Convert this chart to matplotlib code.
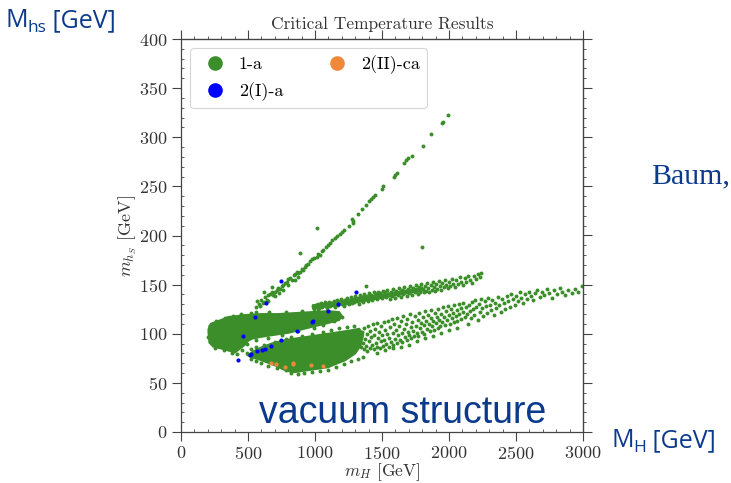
import matplotlib
matplotlib.use("Agg")
import matplotlib.pyplot as plt
from matplotlib.lines import Line2D
from matplotlib.ticker import MultipleLocator
from matplotlib.transforms import IdentityTransform

plt.rcParams['font.family'] = 'serif'
plt.rcParams['font.serif'] = ['cmr10', 'DejaVu Serif']
plt.rcParams['mathtext.fontset'] = 'cm'
plt.rcParams['axes.formatter.use_mathtext'] = True

# ---- data (m_H, m_hS in GeV) ----
# dense cores of the 1-a points, as outlines
upper_lobe = [(205, 102), (212, 108), (240, 111), (300, 114), (353, 117), (420, 118), (478, 119),
              (600, 120), (726, 120), (850, 121), (975, 122), (1100, 123), (1180, 122), (1200, 118),
              (1180, 114), (1100, 111), (975, 107), (801, 101), (700, 99), (602, 97), (530, 95),
              (502, 93), (470, 88), (440, 85), (403, 81), (353, 83), (300, 85), (240, 87), (212, 91)]
lower_lobe = [(500, 78), (540, 82), (600, 86), (677, 90), (760, 93), (851, 95), (950, 97),
              (1050, 99), (1150, 101), (1250, 103), (1330, 105), (1360, 99), (1340, 88), (1300, 80),
              (1224, 73), (1150, 69), (1099, 66), (1000, 64), (900, 62), (851, 61), (800, 62),
              (760, 64), (700, 68), (640, 71), (580, 74), (530, 76)]
middle_core = [(985, 129), (1200, 133), (1400, 138), (1600, 142), (1800, 147),
               (1800, 144), (1600, 139), (1400, 134), (1200, 130), (985, 126)]

# individual 1-a points
green_branch = [(565, 133), (580, 130), (595, 134), (610, 131), (627, 137), (640, 134), (650, 139),
                (664, 140), (680, 142), (690, 139), (702, 143), (715, 145), (725, 147), (739, 146),
                (750, 149), (764, 150), (775, 152), (790, 153), (800, 156), (815, 157), (826, 155),
                (840, 160), (851, 161), (865, 163), (875, 162), (888, 163), (900, 166), (912, 165),
                (925, 168), (935, 170), (950, 171), (962, 174), (975, 176), (990, 177), (1013, 178),
                (1025, 181), (1037, 180), (1050, 184), (1062, 185), (1080, 188), (1095, 190),
                (1112, 192), (1130, 195), (1150, 197), (1167, 199), (1187, 202), (1200, 204),
                (1216, 206), (1250, 210), (1279, 217), (1286, 215), (1282, 213), (1320, 222),
                (1350, 227), (1378, 231), (1400, 235), (1416, 237), (1430, 239), (1448, 241),
                (1498, 247), (1510, 250), (1592, 260), (1600, 262), (1610, 264), (1666, 274),
                (1680, 277), (1696, 279), (1726, 281), (1804, 291), (1866, 303), (1950, 314),
                (1958, 316), (1990, 323), (560, 127), (590, 128), (620, 132), (650, 133),
                (700, 138), (730, 141), (760, 145), (800, 150), (850, 155), (870, 158),
                (620, 142), (680, 148), (1013, 208), (888, 182), (1796, 188), (1378, 149)]
green_middle = [(988, 128), (996, 125), (1004, 129), (1012, 127), (1021, 130), (1029, 126),
                (1038, 128), (1046, 131), (1055, 127), (1063, 129), (1072, 132), (1080, 128),
                (1089, 126), (1097, 130), (1106, 132), (1114, 128), (1123, 131), (1131, 129),
                (1140, 133), (1148, 127), (1157, 131), (1165, 134), (1174, 129), (1182, 132),
                (1191, 135), (1199, 130), (1208, 133), (1216, 128), (1225, 134), (1233, 131),
                (1242, 136), (1250, 130), (1259, 133), (1267, 137), (1276, 131), (1284, 135),
                (1293, 132), (1301, 138), (1310, 133), (1318, 136), (1327, 130), (1335, 139),
                (1344, 134), (1352, 137), (1361, 132), (1369, 140), (1378, 135), (1386, 138),
                (1395, 133), (1403, 141), (1412, 136), (1420, 139), (1429, 134), (1437, 142),
                (1446, 137), (1454, 140), (1463, 135), (1471, 143), (1480, 138), (1488, 141),
                (1497, 136), (1505, 144), (1514, 139), (1522, 142), (1531, 137), (1539, 145),
                (1548, 140), (1556, 135), (1565, 143), (1573, 138), (1582, 146), (1590, 141),
                (1599, 136), (1607, 144), (1616, 139), (1624, 147), (1633, 142), (1641, 137),
                (1650, 145), (1658, 140), (1667, 148), (1675, 143), (1684, 138), (1692, 146),
                (1701, 141), (1709, 149), (1718, 144), (1726, 139), (1735, 147), (1743, 142),
                (1752, 150), (1760, 145), (1769, 140), (1777, 148), (1786, 143), (1794, 151),
                (1803, 146), (1811, 142), (1820, 149), (1828, 144), (1837, 152), (1845, 147),
                (1854, 143), (1862, 150), (1871, 145), (1879, 153), (1888, 148), (1896, 144),
                (1905, 151), (1914, 146), (1923, 154), (1932, 149), (1941, 145), (1950, 152),
                (1960, 148), (1970, 155), (1980, 150), (1990, 147), (2000, 153), (2011, 149),
                (2022, 156), (2033, 151), (2044, 148), (2055, 155), (2067, 151), (2079, 158),
                (2091, 153), (2103, 150), (2116, 157), (2129, 153), (2142, 159), (2156, 155),
                (2170, 152), (2185, 159), (2200, 156), (2215, 161), (2231, 158), (2238, 162)]
green_edges = [(200, 97), (210, 105), (225, 110), (260, 113), (330, 116), (390, 118), (450, 120),
               (520, 121), (560, 122), (660, 122), (780, 122), (900, 123), (1020, 124), (250, 85),
               (320, 83), (380, 80), (420, 79), (455, 83), (490, 90), (560, 94), (650, 96),
               (750, 99), (870, 103), (990, 106), (1060, 109), (1140, 113), (1205, 117),
               (495, 80), (520, 84), (560, 87), (620, 89), (700, 92), (780, 95), (820, 97),
               (900, 98), (980, 100), (1060, 102), (1120, 104), (1180, 106), (1240, 107),
               (1290, 108), (520, 74), (560, 72), (600, 70), (650, 67), (720, 65), (780, 63),
               (820, 60), (870, 59), (920, 60), (980, 61), (1040, 62), (1100, 63), (1160, 66),
               (1220, 69), (1270, 72), (1320, 74), (1360, 76)]
green_lower = [(1338, 98), (1344, 87), (1351, 102), (1357, 91), (1362, 84), (1369, 106), (1373, 95),
               (1379, 88), (1386, 100), (1391, 82), (1397, 108), (1403, 93), (1408, 86), (1414, 103),
               (1419, 97), (1426, 89), (1431, 110), (1437, 84), (1442, 99), (1448, 105), (1453, 91),
               (1459, 87), (1466, 111), (1471, 96), (1477, 102), (1483, 85), (1489, 93), (1494, 108),
               (1501, 99), (1507, 88), (1512, 112), (1518, 94), (1524, 104), (1531, 90), (1536, 100),
               (1542, 113), (1549, 87), (1554, 96), (1561, 107), (1567, 92), (1572, 115), (1579, 101),
               (1585, 89), (1591, 110), (1597, 95), (1603, 104), (1609, 116), (1615, 91), (1622, 99),
               (1628, 108), (1633, 94), (1640, 113), (1646, 101), (1652, 92), (1658, 118), (1664, 105),
               (1671, 97), (1677, 110), (1683, 94), (1689, 115), (1695, 102), (1702, 99), (1708, 120),
               (1714, 107), (1720, 96), (1727, 112), (1733, 103), (1739, 98), (1746, 118), (1752, 108),
               (1758, 101), (1765, 114), (1771, 98), (1777, 121), (1784, 106), (1790, 111), (1797, 102),
               (1803, 117), (1810, 109), (1816, 100), (1823, 123), (1829, 113), (1835, 105), (1842, 119),
               (1848, 110), (1855, 103), (1862, 116), (1868, 124), (1875, 108), (1881, 113), (1888, 104),
               (1894, 121), (1901, 111), (1908, 117), (1915, 106), (1921, 125), (1928, 114), (1935, 108),
               (1942, 120), (1949, 112), (1956, 127), (1963, 117), (1970, 109), (1977, 123), (1984, 114),
               (1991, 128), (1998, 119), (2005, 110), (2012, 125), (2020, 116), (2027, 121), (2034, 112),
               (2041, 129), (2049, 118), (2056, 124), (2063, 113), (2071, 130), (2078, 120), (2086, 126),
               (2093, 115), (2101, 122), (2108, 131), (2116, 117), (2124, 127), (2131, 120), (2139, 110),
               (2147, 129), (2155, 123), (2163, 116), (2171, 132), (2179, 125), (2187, 119), (2196, 134),
               (2204, 127), (2213, 114), (2221, 130), (2230, 122), (2239, 135), (2248, 126), (2257, 118),
               (2266, 133), (2275, 128), (2285, 121), (2294, 136), (2304, 129), (2313, 124), (2323, 134),
               (2333, 119), (2343, 131), (2353, 126), (2364, 137), (2374, 129), (2385, 122), (2396, 135),
               (2407, 131), (2418, 125), (2430, 138), (2441, 133), (2453, 127), (2465, 140), (2477, 135),
               (2489, 129), (2502, 138), (2515, 133), (2528, 142), (2541, 136), (2555, 131), (2569, 140),
               (2583, 135), (2598, 143), (2613, 138), (2628, 134), (2644, 141), (2660, 145), (2676, 137),
               (2693, 142), (2710, 139), (2728, 146), (2746, 141), (2765, 136), (2784, 145), (2804, 140),
               (2825, 147), (2846, 143), (2868, 139), (2891, 145), (2915, 141), (2940, 146), (2966, 143),
               (2992, 149), (1460, 80), (1520, 83), (1580, 85), (1640, 87), (1700, 89), (1760, 93),
               (1820, 96), (1880, 98), (1940, 101), (2000, 104), (2060, 106)]

# 2(I)-a points
blue_pts = [(744, 154), (1306, 142), (632, 131), (1174, 130), (1099, 123), (552, 117), (987, 113),
            (975, 112), (863, 103), (460, 98), (749, 94), (669, 88), (627, 84), (602, 83),
            (570, 82), (515, 78), (522, 79), (428, 73)]
# 2(II)-ca points
orange_pts = [(672, 70), (709, 69), (776, 66), (833, 70), (838, 69), (970, 68), (1062, 67)]

green = '#3c8e2b'
blue = '#0000ff'
orange = '#f0883a'
slide_blue = '#0b3a8c'

fig = plt.figure(figsize=(7.31, 4.83), dpi=100)
ax = fig.add_axes([181 / 731, 1 - 432 / 483, 402 / 731, 393 / 483])

for poly in (upper_lobe, lower_lobe, middle_core):
    ax.fill([p[0] for p in poly], [p[1] for p in poly], color=green, lw=1.5, zorder=2)

green_all = green_branch + green_middle + green_edges + green_lower
ax.scatter([p[0] for p in green_all], [p[1] for p in green_all], s=8, c=green, lw=0, zorder=2)
ax.scatter([p[0] for p in orange_pts], [p[1] for p in orange_pts], s=9, c=orange, lw=0, zorder=3)
ax.scatter([p[0] for p in blue_pts], [p[1] for p in blue_pts], s=9, c=blue, lw=0, zorder=4)

ax.set_xlim(0, 3000)
ax.set_ylim(0, 400)
ax.xaxis.set_major_locator(MultipleLocator(500))
ax.xaxis.set_minor_locator(MultipleLocator(100))
ax.yaxis.set_major_locator(MultipleLocator(50))
ax.yaxis.set_minor_locator(MultipleLocator(10))
ax.tick_params(which='major', direction='out', length=6.5, width=0.8, colors='#444444',
               labelcolor='#333333', labelsize=13, pad=3)
ax.tick_params(which='minor', direction='in', length=2, width=0.6, colors='#444444')
for s in ax.spines.values():
    s.set_color('#444444')
    s.set_linewidth(0.9)

top = ax.secondary_xaxis('top')
top.xaxis.set_major_locator(MultipleLocator(500))
top.xaxis.set_minor_locator(MultipleLocator(100))
top.tick_params(which='major', direction='out', length=6.5, width=0.8, colors='#444444', labeltop=False)
top.tick_params(which='minor', direction='out', length=2, width=0.6, colors='#444444')
right = ax.secondary_yaxis('right')
right.yaxis.set_major_locator(MultipleLocator(50))
right.yaxis.set_minor_locator(MultipleLocator(10))
right.tick_params(which='major', direction='out', length=6.5, width=0.8, colors='#444444', labelright=False)
right.tick_params(which='minor', direction='out', length=2, width=0.6, colors='#444444')

ax.set_xlabel(r'$m_H$ [GeV]', fontsize=12.5, color='#333333', labelpad=-0.5)
ax.set_ylabel(r'$m_{h_S}$ [GeV]', fontsize=13, color='#333333', labelpad=0)
ax.set_title('Critical Temperature Results', fontsize=12.5, color='#333333', pad=7)

handles = [Line2D([], [], marker='o', ls='', color=green, markersize=9.5, label='1-a'),
           Line2D([], [], marker='o', ls='', color=blue, markersize=9.5, label='2(I)-a'),
           Line2D([], [], marker='o', ls='', color=orange, markersize=9.5, label='2(II)-ca')]
leg = ax.legend(handles=handles, loc='upper left', ncol=2, fontsize=13, frameon=True,
                columnspacing=2.0, handletextpad=0.3, borderaxespad=0.5, labelspacing=0.55)
leg.get_frame().set_edgecolor('#cccccc')
leg.get_frame().set_linewidth(0.8)

# slide overlay text, placed in pixels (origin top-left of the picture)
H = 483
renderer = fig.canvas.get_renderer()


def slide_text(x, base, parts):
    for txt, size, dy in parts:
        t = fig.text(x, H - base - dy, txt, transform=IdentityTransform(), fontsize=size,
                     family='Open Sans', color=slide_blue, va='baseline', ha='left')
        x = t.get_window_extent(renderer).x1


slide_text(5, 27, [('M', 18, 0), ('hs', 12.5, 5), (' [GeV]', 18, 0)])
slide_text(611, 447, [('M', 18, 0), ('H', 12.5, 5), (' [GeV]', 18, 0)])
fig.text(403, H - 423, 'vacuum structure', transform=IdentityTransform(), fontsize=27,
         family='Liberation Sans', color=slide_blue, va='baseline', ha='center')
fig.text(651, H - 183, 'Baum,', transform=IdentityTransform(), fontsize=21.5,
         family='Liberation Serif', color=slide_blue, va='baseline', ha='left')

fig.savefig('out.png', dpi=100)
